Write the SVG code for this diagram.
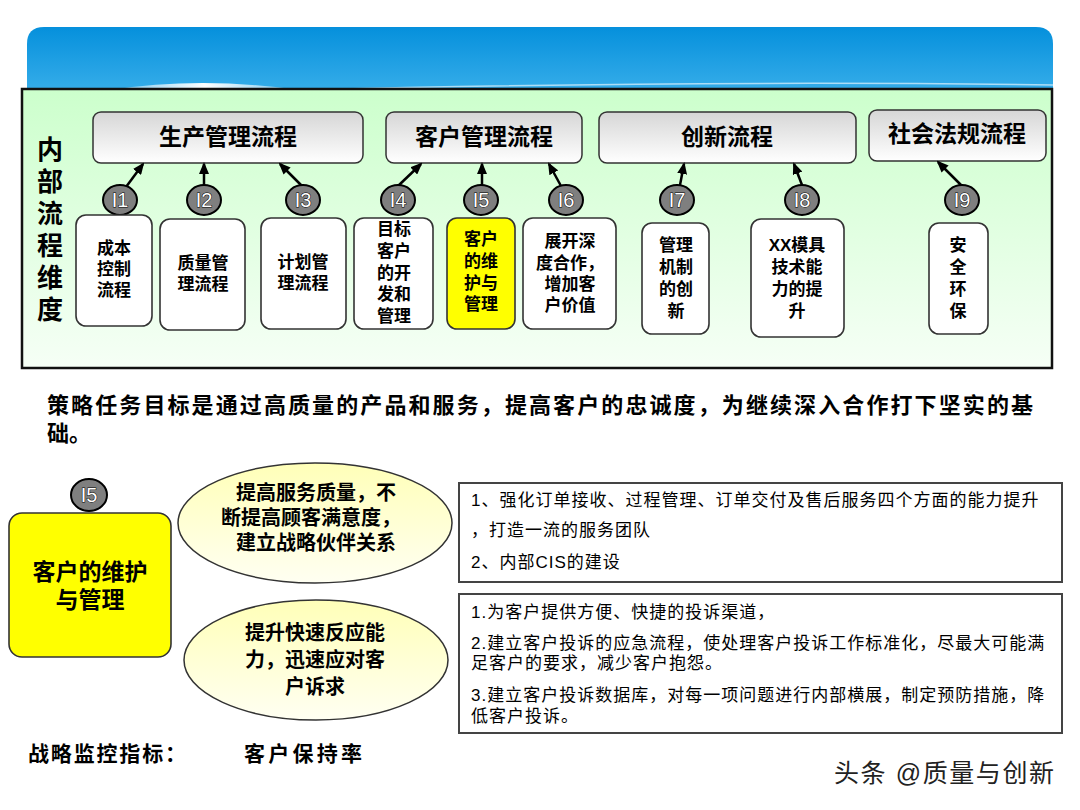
<svg xmlns="http://www.w3.org/2000/svg" width="1080" height="810" viewBox="0 0 1080 810">
<defs>
<linearGradient id="gBlue" x1="0" y1="0" x2="0" y2="1"><stop offset="0" stop-color="#0590DC"/><stop offset="1" stop-color="#3DB1EB"/></linearGradient>
<linearGradient id="gGreen" x1="0" y1="0" x2="0" y2="1"><stop offset="0" stop-color="#CCFFCC"/><stop offset="1" stop-color="#F6FFF6"/></linearGradient>
<linearGradient id="gHead" x1="0" y1="0" x2="0" y2="1"><stop offset="0" stop-color="#D6D6D6"/><stop offset="1" stop-color="#FFFFFF"/></linearGradient>
<linearGradient id="gEll" x1="0" y1="0" x2="0" y2="1"><stop offset="0" stop-color="#FFFFB8"/><stop offset="1" stop-color="#FFFFF2"/></linearGradient>
<linearGradient id="gWave" x1="0" y1="0" x2="1" y2="0"><stop offset="0" stop-color="#fff" stop-opacity="0.3"/><stop offset="0.5" stop-color="#fff" stop-opacity="1"/><stop offset="1" stop-color="#fff" stop-opacity="0.3"/></linearGradient>
<marker id="arr" markerWidth="12" markerHeight="10" refX="10" refY="5" orient="auto" markerUnits="userSpaceOnUse"><path d="M0,0 L12,5 L0,10 Z" fill="#000"/></marker>
<style>
text{font-family:"Liberation Sans","Noto Sans CJK SC",sans-serif;fill:#000;dominant-baseline:central}
.head{fill:url(#gHead);stroke:#333;stroke-width:1.5}
.headT{font-size:23px;font-weight:bold;text-anchor:middle}
.sub{fill:#fff;stroke:#333;stroke-width:1.6}
.subT{font-size:17px;font-weight:bold;text-anchor:middle}
.circ{fill:#7F7F7F;stroke:#000;stroke-width:2}
.circT{font-size:20px;fill:#fff;stroke:#000;stroke-width:1;text-anchor:middle;paint-order:stroke}
.conn{stroke:#000;stroke-width:2.5;fill:none;marker-end:url(#arr)}
.list{font-size:17px;letter-spacing:1px}
.ellT{font-size:20px;font-weight:bold;text-anchor:middle}
.side{font-size:26px;font-weight:bold;text-anchor:middle}
</style>
</defs>
<rect width="1080" height="810" fill="#fff"/>
<g id="banner">
<path d="M27,44 Q27,27 44,27 L1036,27 Q1053,27 1053,44 L1053,100 L27,100 Z" fill="url(#gBlue)"/>
<path d="M110,90 Q200,76 300,90 Z" fill="url(#gWave)"/>
<path d="M300,90 Q700,80 1053,85" fill="none" stroke="#fff" stroke-width="1.5" opacity="0.6"/>
</g>
<g id="panel">
<rect x="22" y="89" width="1030" height="279" fill="url(#gGreen)" stroke="#111" stroke-width="2.5"/>
<text class="side"><tspan x="50" y="150">内</tspan><tspan x="50" y="182">部</tspan><tspan x="50" y="214">流</tspan><tspan x="50" y="246">程</tspan><tspan x="50" y="278">维</tspan><tspan x="50" y="310">度</tspan></text>
</g>
<g id="h1"><rect class="head" x="93" y="112" width="270" height="51" rx="8"/><text class="headT" x="228" y="137">生产管理流程</text></g>
<g id="h2"><rect class="head" x="386" y="112" width="196" height="51" rx="8"/><text class="headT" x="484" y="137">客户管理流程</text></g>
<g id="h3"><rect class="head" x="599" y="112" width="257" height="51" rx="8"/><text class="headT" x="727" y="137">创新流程</text></g>
<g id="h4"><rect class="head" x="869" y="110" width="177" height="51" rx="8"/><text class="headT" x="957" y="134">社会法规流程</text></g>
<g id="connectors">
<line class="conn" x1="126" y1="187" x2="143" y2="164"/>
<line class="conn" x1="204" y1="185" x2="204" y2="164"/>
<line class="conn" x1="302" y1="186" x2="280" y2="164"/>
<line class="conn" x1="398" y1="186" x2="421" y2="164"/>
<line class="conn" x1="482" y1="185" x2="482" y2="164"/>
<line class="conn" x1="561" y1="186" x2="549" y2="164"/>
<line class="conn" x1="680" y1="185" x2="684" y2="164"/>
<line class="conn" x1="802" y1="185" x2="794" y2="164"/>
<line class="conn" x1="962" y1="186" x2="938" y2="162"/>
</g>
<g id="i1"><ellipse class="circ" cx="120" cy="200" rx="17" ry="15"/><text class="circT" x="120" y="200">I1</text></g>
<g id="i2"><ellipse class="circ" cx="204" cy="200" rx="17" ry="15"/><text class="circT" x="204" y="200">I2</text></g>
<g id="i3"><ellipse class="circ" cx="303" cy="200" rx="17" ry="15"/><text class="circT" x="303" y="200">I3</text></g>
<g id="i4"><ellipse class="circ" cx="398" cy="200" rx="17" ry="15"/><text class="circT" x="398" y="200">I4</text></g>
<g id="i5"><ellipse class="circ" cx="481" cy="200" rx="17" ry="15"/><text class="circT" x="481" y="200">I5</text></g>
<g id="i6"><ellipse class="circ" cx="566" cy="200" rx="17" ry="15"/><text class="circT" x="566" y="200">I6</text></g>
<g id="i7"><ellipse class="circ" cx="677" cy="200" rx="17" ry="15"/><text class="circT" x="677" y="200">I7</text></g>
<g id="i8"><ellipse class="circ" cx="802" cy="200" rx="17" ry="15"/><text class="circT" x="802" y="200">I8</text></g>
<g id="i9"><ellipse class="circ" cx="962" cy="200" rx="17" ry="15"/><text class="circT" x="962" y="200">I9</text></g>
<g id="s1"><rect class="sub" x="76" y="215" width="76" height="111" rx="10"/>
<text class="subT"><tspan x="114" y="248">成本</tspan><tspan x="114" y="269">控制</tspan><tspan x="114" y="290">流程</tspan></text></g>
<g id="s2"><rect class="sub" x="160" y="219" width="85" height="111" rx="10"/>
<text class="subT"><tspan x="203" y="263">质量管</tspan><tspan x="203" y="284">理流程</tspan></text></g>
<g id="s3"><rect class="sub" x="261" y="218" width="85" height="111" rx="10"/>
<text class="subT"><tspan x="303" y="262">计划管</tspan><tspan x="303" y="283">理流程</tspan></text></g>
<g id="s4"><rect class="sub" x="354" y="218" width="79" height="111" rx="10"/>
<text class="subT"><tspan x="394" y="229">目标</tspan><tspan x="394" y="251">客户</tspan><tspan x="394" y="273">的开</tspan><tspan x="394" y="294">发和</tspan><tspan x="394" y="316">管理</tspan></text></g>
<g id="s5"><rect x="447" y="218" width="68" height="111" rx="10" fill="#FFFF00" stroke="#333" stroke-width="1.6"/>
<text class="subT"><tspan x="481" y="239">客户</tspan><tspan x="481" y="261">的维</tspan><tspan x="481" y="283">护与</tspan><tspan x="481" y="304">管理</tspan></text></g>
<g id="s6"><rect class="sub" x="523" y="218" width="93" height="111" rx="10"/>
<text class="subT"><tspan x="570" y="241">展开深</tspan><tspan x="570" y="263">度合作，</tspan><tspan x="570" y="284">增加客</tspan><tspan x="570" y="305">户价值</tspan></text></g>
<g id="s7"><rect class="sub" x="642" y="223" width="67" height="111" rx="10"/>
<text class="subT"><tspan x="676" y="245">管理</tspan><tspan x="676" y="267">机制</tspan><tspan x="676" y="289">的创</tspan><tspan x="676" y="311">新</tspan></text></g>
<g id="s8"><rect class="sub" x="751" y="219" width="93" height="118" rx="10"/>
<text class="subT"><tspan x="797" y="245">XX模具</tspan><tspan x="797" y="267">技术能</tspan><tspan x="797" y="289">力的提</tspan><tspan x="797" y="311">升</tspan></text></g>
<g id="s9"><rect class="sub" x="929" y="223" width="59" height="111" rx="10"/>
<text class="subT"><tspan x="958" y="245">安</tspan><tspan x="958" y="267">全</tspan><tspan x="958" y="289">环</tspan><tspan x="958" y="311">保</tspan></text></g>
<g id="strategy">
<text style="font-size:22px;font-weight:bold"><tspan x="47" y="405" textLength="986" lengthAdjust="spacing">策略任务目标是通过高质量的产品和服务，提高客户的忠诚度，为继续深入合作打下坚实的基</tspan><tspan x="47" y="433">础。</tspan></text>
</g>
<g id="b5"><ellipse class="circ" cx="89" cy="495" rx="18" ry="16"/><text class="circT" x="89" y="495">I5</text></g>
<g id="yellow"><rect x="9" y="513" width="162" height="144" rx="13" fill="#FFFF00" stroke="#333" stroke-width="1.6"/>
<text style="font-size:23px;text-anchor:middle;font-weight:bold"><tspan x="90" y="572">客户的维护</tspan><tspan x="90" y="600">与管理</tspan></text></g>
<g id="e1"><ellipse cx="315" cy="523" rx="137" ry="60" fill="url(#gEll)" stroke="#333" stroke-width="1.5"/>
<text class="ellT"><tspan x="316" y="493">提高服务质量，不</tspan><tspan x="311" y="518">断提高顾客满意度，</tspan><tspan x="316" y="543">建立战略伙伴关系</tspan></text></g>
<g id="e2"><ellipse cx="316" cy="660" rx="132" ry="60" fill="url(#gEll)" stroke="#333" stroke-width="1.5"/>
<text class="ellT"><tspan x="315" y="633">提升快速反应能</tspan><tspan x="315" y="660">力，迅速应对客</tspan><tspan x="315" y="687">户诉求</tspan></text></g>
<g id="box1"><rect x="459" y="483" width="603" height="99" fill="#fff" stroke="#444" stroke-width="2"/>
<text class="list" x="471" y="500">1、强化订单接收、过程管理、订单交付及售后服务四个方面的能力提升</text>
<text class="list" x="471" y="530">，打造一流的服务团队</text>
<text class="list" x="471" y="562">2、内部CIS的建设</text></g>
<g id="box2"><rect x="459" y="594" width="603" height="139" fill="#fff" stroke="#444" stroke-width="2"/>
<text class="list" x="471" y="612">1.为客户提供方便、快捷的投诉渠道，</text>
<text class="list"><tspan x="471" y="643">2.建立客户投诉的应急流程，使处理客户投诉工作标准化，尽最大可能满</tspan><tspan x="471" y="663">足客户的要求，减少客户抱怨。</tspan></text>
<text class="list"><tspan x="471" y="695">3.建立客户投诉数据库，对每一项问题进行内部横展，制定预防措施，降</tspan><tspan x="471" y="716">低客户投诉。</tspan></text></g>
<g id="monitor">
<text x="28" y="753" textLength="158" lengthAdjust="spacing" style="font-size:21px;font-weight:bold">战略监控指标：</text>
<text x="244" y="753" textLength="118" lengthAdjust="spacing" style="font-size:21px;font-weight:bold">客户保持率</text>
</g>
<g id="watermark">
<text x="834" y="773" textLength="220" lengthAdjust="spacing" style="font-size:25px;fill:#222;stroke:#fff;stroke-width:2;paint-order:stroke">头条 @质量与创新</text>
</g>
</svg>
